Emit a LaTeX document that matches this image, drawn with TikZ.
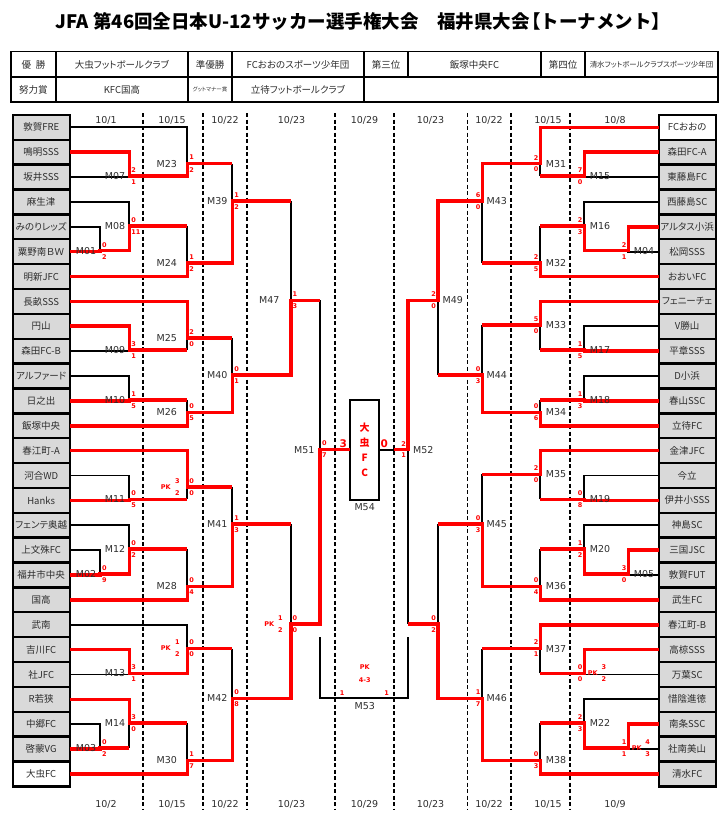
\documentclass[tikz,border=0pt]{standalone}
\usepackage{fontspec}
\setmainfont{Noto Sans CJK JP}[RawFeature={+palt}]
\newfontfamily\jpm{Noto Sans CJK JP}
\newfontfamily\lat{DejaVu Sans}
\definecolor{WinRed}{RGB}{255,0,0}
\definecolor{BoxGray}{RGB}{217,217,217}
\definecolor{TextGray}{RGB}{45,45,45}
% y of half-row k in the bracket grid
\newcommand{\ky}[1]{126.3+12.435*#1}

\begin{document}
\begin{tikzpicture}[x=1pt, y=-1pt,
    lose/.style={line width=1.8pt},
    win/.style={WinRed, line width=3.6pt},
    sep/.style={line width=1.6pt, dash pattern=on 4pt off 2.5pt},
    tab/.style={line width=1.8pt},
    team/.style={draw, line width=2.4pt, fill=BoxGray, minimum width=57pt, minimum height=24.87pt,
      inner sep=0pt, outer sep=0pt, text=TextGray, font=\fontsize{9.5}{10}\selectfont},
    cell/.style={text=TextGray, font=\fontsize{9.5}{11}\selectfont},
    mlab/.style={inner sep=0pt, text=TextGray, font=\lat\fontsize{9.5}{10}\selectfont},
    date/.style={text=TextGray, font=\lat\fontsize{9.5}{10}\selectfont},
    sc/.style={inner sep=0pt, text=WinRed, font=\lat\bfseries\fontsize{6.5}{7}\selectfont},
    big/.style={inner sep=0pt, text=WinRed, font=\lat\bfseries\fontsize{10.5}{11}\selectfont}]
  \useasboundingbox (0,0) rectangle (727,833);

  % title and result table
  \node[font=\jpm\bfseries\fontsize{18.5}{20}\selectfont] (title) at (363,21.5)
    {JFA 第46回全日本U-12サッカー選手権大会\quad 福井県大会\hspace{-0.4em}【トーナメント】};
  \draw[tab] (11,51.5) rectangle (718,102);
  \draw[tab] (11,77) -- (718,77);
  \foreach \x in {56,188,232,364} \draw[tab] (\x,51.5) -- (\x,102);
  \foreach \x in {408,541,585} \draw[tab] (\x,51.5) -- (\x,77);
  \node[cell] (h1) at (33.5,64.5) {優\hspace{0.5em}勝};
  \node[cell] (h2) at (122,64.5) {大虫フットボールクラブ};
  \node[cell] (h3) at (210,64.5) {準優勝};
  \node[cell] (h4) at (298,64.5) {FCおおのスポーツ少年団};
  \node[cell] (h5) at (386,64.5) {第三位};
  \node[cell] (h6) at (474.5,64.5) {飯塚中央FC};
  \node[cell] (h7) at (563,64.5) {第四位};
  \node[cell, font=\fontsize{7.4}{8}\selectfont] (h8) at (651.5,64.5) {清水フットボールクラブスポーツ少年団};
  \node[cell] (h9) at (33.5,89.5) {努力賞};
  \node[cell] (h10) at (122,89.5) {KFC国高};
  \node[cell, font=\fontsize{5.5}{6}\selectfont] (h11) at (210,89.5) {グットマナー賞};
  \node[cell] (h12) at (298,89.5) {立待フットボールクラブ};

  % round columns and dates
  \foreach \x in {143,203,247,335,394,467.3,511,570} \draw[sep] (\x,113) -- (\x,810);
  \draw[sep] (70,{\ky{26}}) -- (143,{\ky{26}});
  \draw[sep] (570,{\ky{26}}) -- (657.8,{\ky{26}});
  \foreach \x/\a/\b [count=\i] in {106/1/2,172/15/15,225/22/22,291.5/23/23,364.5/29/29,430.5/23/23,489/22/22,548/15/15,615/8/9}{
    \node[date] (dt\i) at (\x,120.5) {10/\a};
    \node[date] (db\i) at (\x,804) {10/\b};
  }

  % teams
  \foreach \t [count=\i from 0] in {敦賀FRE,鳴明SSS,坂井SSS,麻生津,みのりレッズ,粟野南ＢＷ,明新JFC,長畝SSS,円山,森田FC-B,アルファード,日之出,飯塚中央,
      春江町-A,河合WD,Hanks,フェンテ奥越,上文殊FC,福井市中央,国高,武南,吉川FC,社JFC,R若狭,中郷FC,啓蒙VG,大虫FC}{
    \ifnum\i=26 \def\fc{white}\else\def\fc{BoxGray}\fi
    \node[team, fill=\fc] (L\i) at (41.2,{\ky{2*\i+1}}) {\t};
  }
  \foreach \t [count=\i from 0] in {FCおおの,森田FC-A,東藤島FC,西藤島SC,アルタス小浜,松岡SSS,おおいFC,フェニーチェ,V勝山,平章SSS,D小浜,春山SSC,立待FC,
      金津JFC,今立,伊井小SSS,神島SC,三国JSC,敦賀FUT,武生FC,春江町-B,高椋SSS,万葉SC,惜陰進徳,南条SSC,社南美山,清水FC}{
    \ifnum\i=0 \def\fc{white}\else\def\fc{BoxGray}\fi
    \node[team, fill=\fc] (R\i) at (687.2,{\ky{2*\i+1}}) {\t};
  }

  % match points
  \foreach \n/\x/\k in {01/100/10,02/100/36,03/100/50,
      07/129.3/4,08/129.3/8,09/129.3/18,10/129.3/22,11/129.3/30,12/129.3/34,13/129.3/44,14/129.3/48,
      23/187.3/3,24/187.3/11,25/187.3/17,26/187.3/23,27/187.3/29,28/187.3/37,29/187.3/42,30/187.3/51,
      39/232.3/6,40/232.3/20,41/232.3/32,42/232.3/46,47/290.7/14,48/290.7/40,51/320/26,
      04/628.3/10,05/628.3/36,06/628.3/50,
      15/584.3/4,16/584.3/8,17/584.3/18,18/584.3/22,19/584.3/30,20/584.3/34,21/584.3/44,22/584.3/48,
      31/540.3/3,32/540.3/11,33/540.3/16,34/540.3/23,35/540.3/28,36/540.3/37,37/540.3/42,38/540.3/51,
      43/482.3/6,44/482.3/20,45/482.3/32,46/482.3/46,49/438/14,50/438/40,52/408/26}
    \coordinate (m\n) at (\x,{\ky{\k}});
  \coordinate (m52a) at (394,{\ky{26}});
  \coordinate (m53) at (364.7,{\ky{46}});
  \coordinate (m53l) at (320,637.3);
  \coordinate (m53r) at (408,637.3);

  % final
  \node[draw, line width=2pt, minimum width=29.3pt, minimum height=100.3pt, inner sep=0pt, outer sep=0pt,
    align=center, text=WinRed, font=\bfseries\fontsize{10}{14.8}\selectfont] (fin) at (364.65,449.85) {大\\虫\\F\\C};

  % lost
  \foreach \t/\m in {0/23,2/07,3/08,4/01,9/09,10/10,14/11,16/12,17/02,20/29,22/13,24/03}
    \draw[lose] (L\t.east) -| (m\m);
  \foreach \t/\m in {2/15,3/16,5/04,8/17,10/18,14/19,16/20,18/05,22/21,23/22,25/06}
    \draw[lose] (R\t.west) -| (m\m);
  \foreach \a/\b in {03/14,08/24,09/25,10/26,11/27,12/28,14/30,23/39,25/40,27/41,29/42,39/47,41/48,47/51,
      15/31,16/32,17/33,18/34,19/35,20/36,21/37,22/38,32/43,33/44,35/45,37/46,44/49,45/50,50/52}
    \draw[lose] (m\a -| m\b) -- (m\b);
  \draw[lose] (m53l) |- (m53) -| (m53r);
  \draw[lose] (m52a -| fin.east) -- (m52a);

  % won
  \draw[win] (L1.east) -| (m07) -| (m23) -- (m23 -| m39);
  \draw[win] (L5.east) -| (m01) -| (m08) -- (m08 -| m24);
  \draw[win] (L6.east) -| (m24) -| (m39) -- (m39 -| m47);
  \draw[win] (L7.east) -| (m25) -- (m25 -| m40);
  \draw[win] (L8.east) -| (m09) -- (m09 -| m25);
  \draw[win] (L11.east) -| (m10) -- (m10 -| m26);
  \draw[win] (L12.east) -| (m26) -| (m40) -| (m47) -- (m47 -| m51);
  \draw[win] (L13.east) -| (m27) -- (m27 -| m41);
  \draw[win] (L15.east) -| (m11) -- (m11 -| m27);
  \draw[win] (L18.east) -| (m02) -| (m12) -- (m12 -| m28);
  \draw[win] (L19.east) -| (m28) -| (m41) -- (m41 -| m48);
  \draw[win] (L21.east) -| (m13) -| (m29) -- (m29 -| m42);
  \draw[win] (L23.east) -| (m14) -- (m14 -| m30);
  \draw[win] (L25.east) -| (m03) -- (m03 -| m14);
  \draw[win] (L26.east) -| (m30) -| (m42) -| (m48) -| (m51) -- (m51 -| fin.west);
  \draw[win] (R0.west) -| (m31) -| (m43) -| (m49) -| (m52) -- (m52a);
  \draw[win] (R1.west) -| (m15) -- (m15 -| m31);
  \draw[win] (R4.west) -| (m04) -| (m16) -- (m16 -| m32);
  \draw[win] (R6.west) -| (m32) -- (m32 -| m43);
  \draw[win] (R7.west) -| (m33) -- (m33 -| m44);
  \draw[win] (R9.west) -| (m17) -- (m17 -| m33);
  \draw[win] (R11.west) -| (m18) -- (m18 -| m34);
  \draw[win] (R12.west) -| (m34) -| (m44) -- (m44 -| m49);
  \draw[win] (R13.west) -| (m35) -- (m35 -| m45);
  \draw[win] (R15.west) -| (m19) -- (m19 -| m35);
  \draw[win] (R17.west) -| (m05) -| (m20) -- (m20 -| m36);
  \draw[win] (R19.west) -| (m36) -| (m45) -- (m45 -| m50);
  \draw[win] (R20.west) -| (m37) -- (m37 -| m46);
  \draw[win] (R21.west) -| (m21) -- (m21 -| m37);
  \draw[win] (R24.west) -| (m06) -| (m22) -- (m22 -| m38);
  \draw[win] (R26.west) -| (m38) -| (m46) -| (m50) -- (m50 -| m52);

  % match numbers
  \foreach \n in {01,02,03} \node[mlab, xshift=-14pt] (t\n) at (m\n) {M\n};
  \foreach \n in {07,08,09,10,11,12,13,14} \node[mlab, xshift=-14.3pt] (t\n) at (m\n) {M\n};
  \foreach \n in {23,24,25,26,28,30} \node[mlab, xshift=-20.6pt] (t\n) at (m\n) {M\n};
  \foreach \n in {39,40,41,42} \node[mlab, xshift=-15pt] (t\n) at (m\n) {M\n};
  \node[mlab, xshift=-21.4pt] (t47) at (m47) {M47};
  \node[mlab, xshift=-15.7pt] (t51) at (m51) {M51};
  \foreach \n in {04,05,15,16,17,18,19,20,22,31,32,33,34,35,36,37,38} \node[mlab, xshift=15.7pt] (t\n) at (m\n) {M\n};
  \foreach \n in {43,44,45,46} \node[mlab, xshift=14.4pt] (t\n) at (m\n) {M\n};
  \node[mlab, xshift=14.7pt] (t49) at (m49) {M49};
  \node[mlab, xshift=15.3pt] (t52) at (m52) {M52};
  \node[mlab, yshift=-8pt] (t53) at (m53) {M53};
  \node[mlab, anchor=north] (t54) at ([yshift=-3pt]fin.south) {M54};

  % scores
  \foreach \n/\a/\b in {01/0/2,02/0/9,03/0/2,07/2/1,08/0/11,09/3/1,10/1/5,11/0/5,12/0/2,13/3/1,14/3/0,
      23/1/2,24/1/2,25/2/0,26/0/5,27/0/0,28/0/4,29/0/0,30/1/7,39/1/2,40/0/1,41/1/3,42/0/8,47/1/3,48/0/0,51/0/7}{
    \node[sc, anchor=west] (a\n) at ([xshift=1.8pt, yshift=6pt]m\n) {\a};
    \node[sc, anchor=west] (b\n) at ([xshift=1.8pt, yshift=-6pt]m\n) {\b};
  }
  \foreach \n/\a/\b in {04/2/1,05/3/0,06/1/1,15/7/0,16/2/3,17/1/5,18/1/3,19/0/8,20/1/2,21/0/0,22/2/3,
      31/2/0,32/2/5,33/5/0,34/0/6,35/2/0,36/0/4,37/2/1,38/0/3,43/6/0,44/0/3,45/0/3,46/1/7,49/2/0,50/0/2,52/2/1}{
    \node[sc, anchor=east] (a\n) at ([xshift=-1.8pt, yshift=6pt]m\n) {\a};
    \node[sc, anchor=east] (b\n) at ([xshift=-1.8pt, yshift=-6pt]m\n) {\b};
  }
  \foreach \n/\xp/\xs/\p/\q in {27/-21.6/-10/3/2,29/-21.6/-10/1/2,48/-21.4/-10.4/1/2,21/8.4/19.7/3/2,06/8.4/19.4/4/3}{
    \node[sc] (pk\n) at ([xshift=\xp pt]m\n) {PK};
    \node[sc] (pa\n) at ([xshift=\xs pt, yshift=6pt]m\n) {\p};
    \node[sc] (pb\n) at ([xshift=\xs pt, yshift=-6pt]m\n) {\q};
  }
  \node[sc] (a53) at ([xshift=-22.5pt, yshift=5pt]m53) {1};
  \node[sc] (b53) at ([xshift=22pt, yshift=5pt]m53) {1};
  \node[sc] (pk53) at ([yshift=31pt]m53) {PK};
  \node[sc] (pp53) at ([yshift=18.5pt]m53) {4-3};
  \node[big] (f51) at (343.3,444) {3};
  \node[big] (f52) at (384.3,444) {0};
\end{tikzpicture}
\end{document}
